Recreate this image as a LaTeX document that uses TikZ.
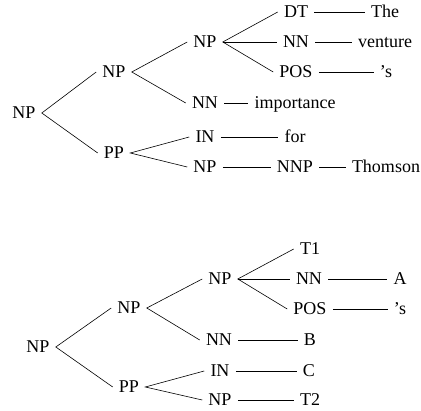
\documentclass[tikz,border=0pt]{standalone}
\usepackage{fontspec}
\setmainfont{Liberation Serif}
\usepackage{tikz}

\begin{document}
\begin{tikzpicture}[x=1pt,y=1pt,
    tag/.style={inner xsep=6pt, inner ysep=2pt, text height=12pt, text depth=0pt,
                font=\fontsize{18}{22}\selectfont},
    every path/.style={line width=0.6pt}]
                \useasboundingbox (0,0) rectangle (421,-411);
                % first tree
                \node[tag] (a0) at (24,-113) {NP};
                \node[tag] (a1) at (114,-72) {NP};
                \node[tag] (a2) at (114,-153) {PP};
                \node[tag] (a3) at (205,-42) {NP};
                \node[tag] (a4) at (205,-103) {NN};
                \node[tag] (a5) at (205,-137) {IN};
                \node[tag] (a6) at (205,-167) {NP};
                \node[tag] (a7) at (296,-12) {DT};
                \node[tag] (a8) at (296,-42) {NN};
                \node[tag] (a9) at (296,-72) {POS};
                \node[tag] (a10) at (295,-103) {importance};
                \node[tag] (a11) at (295,-137) {for};
                \node[tag] (a12) at (295,-167) {NNP};
                \node[tag] (a13) at (385,-12) {The};
                \node[tag] (a14) at (385,-42) {venture};
                \node[tag] (a15) at (386,-72) {'s};
                \node[tag] (a16) at (386,-167) {Thomson};
                \draw (a1.west) -- (a0.east) -- (a2.west);
                \draw (a3.west) -- (a1.east) -- (a4.west);
                \draw (a5.west) -- (a2.east) -- (a6.west);
                \draw (a7.west) -- (a3.east) -- (a9.west);
                \draw (a3.east) -- (a8.west);
                \draw (a7) -- (a13);
                \draw (a8) -- (a14);
                \draw (a9) -- (a15);
                \draw (a4) -- (a10);
                \draw (a5) -- (a11);
                \draw (a6) -- (a12);
                \draw (a12) -- (a16);
                % second tree
                \node[tag] (b0) at (38,-347) {NP};
                \node[tag] (b1) at (129,-308) {NP};
                \node[tag] (b2) at (129,-387) {PP};
                \node[tag] (b3) at (220,-279) {NP};
                \node[tag] (b4) at (219,-340) {NN};
                \node[tag] (b5) at (220,-371) {IN};
                \node[tag] (b6) at (220,-400) {NP};
                \node[tag] (b7) at (310,-249) {T1};
                \node[tag] (b8) at (309,-279) {NN};
                \node[tag] (b9) at (310,-309) {POS};
                \node[tag] (b10) at (310,-340) {B};
                \node[tag] (b11) at (309,-371) {C};
                \node[tag] (b12) at (310,-400) {T2};
                \node[tag] (b13) at (400,-279) {A};
                \node[tag] (b14) at (400,-309) {'s};
                \draw (b1.west) -- (b0.east) -- (b2.west);
                \draw (b3.west) -- (b1.east) -- (b4.west);
                \draw (b5.west) -- (b2.east) -- (b6.west);
                \draw (b7.west) -- (b3.east) -- (b9.west);
                \draw (b3.east) -- (b8.west);
                \draw (b8) -- (b13);
                \draw (b9) -- (b14);
                \draw (b4) -- (b10);
                \draw (b5) -- (b11);
                \draw (b6) -- (b12);
            \end{tikzpicture}
\end{document}
